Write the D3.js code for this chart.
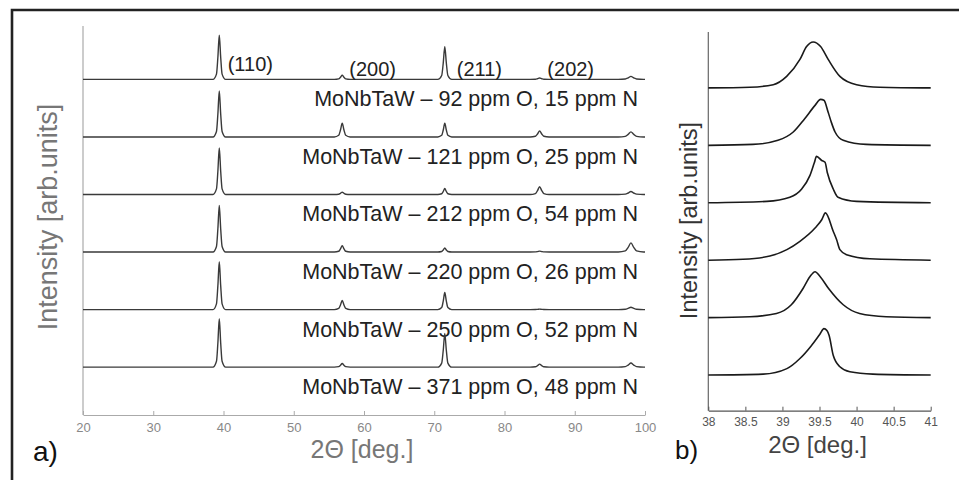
<!DOCTYPE html>
<html>
<head>
<meta charset="utf-8">
<script src="https://cdn.jsdelivr.net/npm/d3@7"></script>
<style>
body { margin: 0; background: #fff; }
text { font-family: "Liberation Sans", Arial, sans-serif; }
</style>
</head>
<body>
<div class="xrd_chart"></div>
<script>
// samples (top to bottom)
const oxygen = [92, 121, 212, 220, 250, 371];
const nitrogen = [15, 25, 54, 26, 52, 48];

// panel a) reflections, peak centres [deg] and half widths
const reflections = ['(110)', '(200)', '(211)', '(202)'];
const peakPos = [39.4, 56.9, 71.5, 85.0, 98.0];
const peakHalfWidth = [0.2, 0.25, 0.22, 0.3, 0.4];
// peak heights per sample, normalised to the (110) peak
const peakHeights = [
    [0.96, 0.09, 0.71, 0.03, 0.065],
    [1.00, 0.30, 0.30, 0.13, 0.11],
    [1.01, 0.05, 0.13, 0.17, 0.065],
    [1.01, 0.14, 0.09, 0.02, 0.20],
    [1.04, 0.20, 0.37, 0.01, 0.05],
    [1.05, 0.08, 0.73, 0.065, 0.09]
];
const xTicksA = [20, 30, 40, 50, 60, 70, 80, 90, 100];

// panel b) (110) peak [2theta, intensity]
const zoomTraces = [
    [[38, 0], [38.56, 0.015], [38.876, 0.07], [39.057, 0.25], [39.236, 0.62], [39.326, 0.9], [39.415, 1.0],
     [39.515, 0.9], [39.617, 0.62], [39.775, 0.25], [40.0, 0.07], [40.31, 0.015], [41, 0]],
    [[38, 0], [38.6, 0.02], [38.94, 0.11], [39.146, 0.29], [39.30, 0.58], [39.44, 0.87], [39.515, 1.0],
     [39.56, 0.98], [39.617, 0.72], [39.66, 0.5], [39.71, 0.29], [39.82, 0.11], [40.13, 0.02], [41, 0]],
    [[38, 0], [38.79, 0.03], [39.10, 0.12], [39.26, 0.30], [39.37, 0.59], [39.43, 0.87], [39.46, 1.01],
     [39.53, 0.92], [39.575, 0.88], [39.605, 0.66], [39.685, 0.30], [39.75, 0.12], [40.0, 0.03], [41, 0]],
    [[38, 0], [38.47, 0.02], [38.83, 0.09], [39.06, 0.23], [39.236, 0.41], [39.44, 0.70], [39.53, 0.88],
     [39.58, 1.03], [39.685, 0.63], [39.73, 0.45], [39.775, 0.23], [39.865, 0.12], [40.18, 0.03], [41, 0]],
    [[38, 0], [38.56, 0.02], [38.92, 0.09], [39.12, 0.28], [39.28, 0.64], [39.37, 0.89], [39.44, 1.0],
     [39.51, 0.89], [39.62, 0.64], [39.82, 0.28], [40.04, 0.09], [40.40, 0.02], [41, 0]],
    [[38, 0], [38.74, 0.02], [39.06, 0.14], [39.236, 0.36], [39.39, 0.64], [39.505, 0.89], [39.56, 1.01],
     [39.60, 0.97], [39.63, 0.86], [39.685, 0.43], [39.775, 0.18], [39.91, 0.07], [40.22, 0.02], [41, 0]]
];
const xTicksB = [38, 38.5, 39, 39.5, 40, 40.5, 41];

const offsetStep = 1.25;

const svg = d3.select('.xrd_chart').append('svg')
            .attr('width', 959)
            .attr('height', 480);

// frame (left + top)
svg.append('path')
    .attr('d', 'M12,480 L12,10 L959,10')
    .attr('fill', 'none')
    .attr('stroke', '#222')
    .attr('stroke-width', 2.6);

// ---------- panel a) ----------
const xA = d3.scaleLinear().domain([20, 100]).range([83, 645]);
const yA = d3.scaleLinear().domain([-1.04, 7.41]).range([415, 26]);

const profile = [[-4.5, 0], [-2, 0.12], [-1, 0.5], [0, 1], [1, 0.5], [2, 0.12], [4.5, 0]];
function tracePoints(heights) {
    const pts = [[20, 0]];
    peakPos.forEach((p, i) => {
        profile.forEach(([dx, f]) => pts.push([p + dx * peakHalfWidth[i], f * heights[i]]));
    });
    pts.push([100, 0]);
    return pts;
}

const gA = svg.append('g');

gA.append('line')
    .attr('x1', 83).attr('x2', 83)
    .attr('y1', 26).attr('y2', 415)
    .attr('stroke', '#aaa')
    .attr('stroke-width', 1.2);

const xAxisA = gA.append('g')
    .attr('transform', 'translate(0,415)')
    .call(d3.axisBottom(xA).tickValues(xTicksA).tickSize(-4).tickSizeOuter(0).tickPadding(7.5));
xAxisA.select('.domain').attr('stroke', '#aaa').attr('stroke-width', 1.2);
xAxisA.selectAll('.tick line').attr('stroke', '#aaa');
xAxisA.selectAll('.tick text')
    .attr('fill', '#888')
    .style('font-size', '13px');

const nA = peakHeights.length;
peakHeights.forEach((h, k) => {
    const off = (nA - 1 - k) * offsetStep;
    const line = d3.line()
        .x(d => xA(d[0]))
        .y(d => yA(d[1] + off))
        .curve(d3.curveMonotoneX);
    gA.append('path')
        .datum(tracePoints(h))
        .attr('d', line)
        .attr('fill', 'none')
        .attr('stroke', '#3a3a3a')
        .attr('stroke-width', 1.4);

    gA.append('text')
        .text(`MoNbTaW – ${oxygen[k]} ppm O, ${nitrogen[k]} ppm N`)
        .attr('x', 638)
        .attr('y', yA(off) + 27)
        .attr('text-anchor', 'end')
        .attr('fill', '#222')
        .style('font-size', '21.5px');
});

// reflection labels
const labelAt = [40.6, 57.9, 73.2, 86.1];
const labelY = [71, 76, 76, 76];
gA.selectAll('.refl')
    .data(reflections)
    .enter()
    .append('text')
    .classed('refl', true)
    .text(d => d)
    .attr('x', (d, i) => xA(labelAt[i]))
    .attr('y', (d, i) => labelY[i])
    .attr('fill', '#222')
    .style('font-size', '20px');

gA.append('text')
    .text('Intensity [arb.units]')
    .attr('transform', 'translate(57,217) rotate(-90)')
    .attr('text-anchor', 'middle')
    .attr('fill', '#777')
    .style('font-size', '27px');

gA.append('text')
    .text('2Θ [deg.]')
    .attr('x', 362)
    .attr('y', 458)
    .attr('text-anchor', 'middle')
    .attr('fill', '#777')
    .style('font-size', '25px');

gA.append('text')
    .text('a)')
    .attr('x', 33)
    .attr('y', 461)
    .attr('fill', '#111')
    .style('font-size', '28px');

// ---------- panel b) ----------
const xB = d3.scaleLinear().domain([38, 41]).range([708.3, 930.7]);
const yB = d3.scaleLinear().domain([-0.776, 7.467]).range([410.7, 32]);

const gB = svg.append('g');

gB.append('line')
    .attr('x1', 708.3).attr('x2', 708.3)
    .attr('y1', 32).attr('y2', 410.7)
    .attr('stroke', '#666')
    .attr('stroke-width', 1.2);

const xAxisB = gB.append('g')
    .attr('transform', 'translate(0,410.7)')
    .call(d3.axisBottom(xB).tickValues(xTicksB).tickFormat(d => d).tickSize(-4).tickSizeOuter(0).tickPadding(6.5));
xAxisB.select('.domain').attr('stroke', '#555').attr('stroke-width', 1.2);
xAxisB.selectAll('.tick line').attr('stroke', '#555');
xAxisB.selectAll('.tick text')
    .attr('fill', '#555')
    .style('font-size', '12px');

const nB = zoomTraces.length;
const lineB = d3.line()
    .x(d => xB(d[0]))
    .y(d => yB(d[1]))
    .curve(d3.curveMonotoneX);
zoomTraces.forEach((tr, k) => {
    const off = (nB - 1 - k) * offsetStep;
    gB.append('path')
        .datum(tr.map(d => [d[0], d[1] + off]))
        .attr('d', lineB)
        .attr('fill', 'none')
        .attr('stroke', '#1a1a1a')
        .attr('stroke-width', 1.6);
});

gB.append('text')
    .text('Intensity [arb.units]')
    .attr('transform', 'translate(697,220.5) rotate(-90)')
    .attr('text-anchor', 'middle')
    .attr('fill', '#333')
    .style('font-size', '23.5px');

gB.append('text')
    .text('2Θ [deg.]')
    .attr('x', 817.5)
    .attr('y', 453)
    .attr('text-anchor', 'middle')
    .attr('fill', '#444')
    .style('font-size', '24px');

gB.append('text')
    .text('b)')
    .attr('x', 675)
    .attr('y', 459)
    .attr('fill', '#111')
    .style('font-size', '26px');
</script>
</body>
</html>
